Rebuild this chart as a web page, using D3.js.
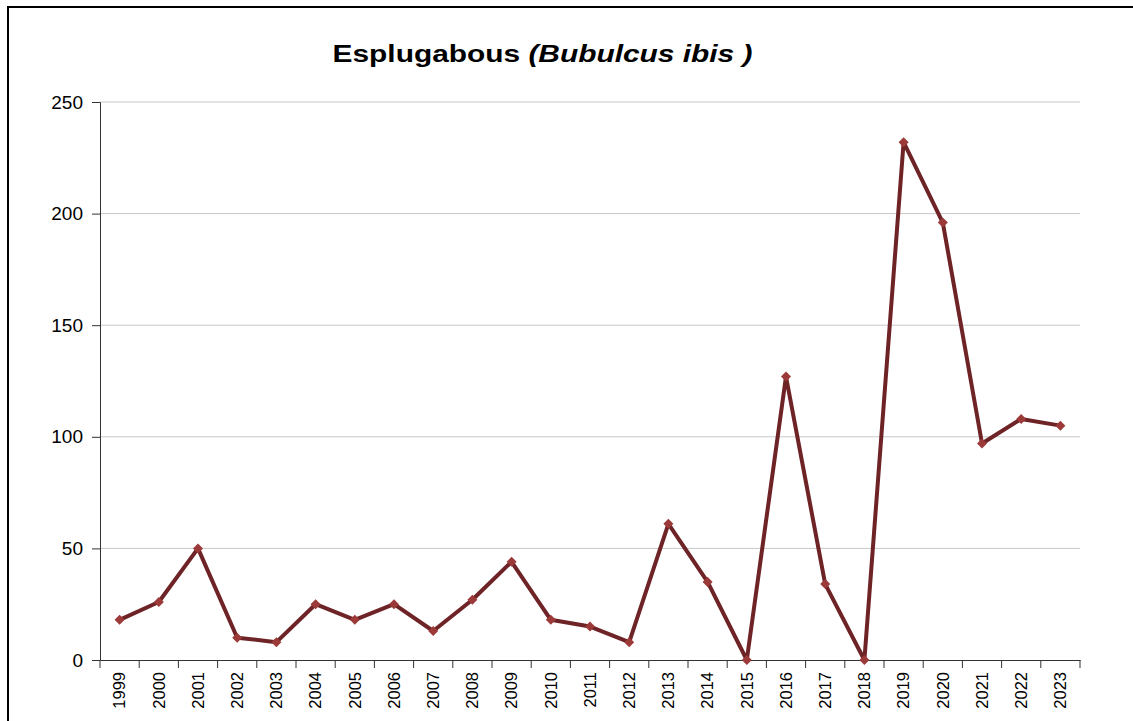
<!DOCTYPE html>
<html><head><meta charset="utf-8">
<script src="https://cdn.jsdelivr.net/npm/d3@7"></script>
<style>body{margin:0;background:#fff;} svg{display:block;font-family:"Liberation Sans",Arial,sans-serif;}</style>
</head><body>
<svg id="c" width="1133" height="721"></svg>
<script>
const years = ["1999","2000","2001","2002","2003","2004","2005","2006","2007","2008","2009","2010","2011","2012","2013","2014","2015","2016","2017","2018","2019","2020","2021","2022","2023"];
const counts = [18,26,50,10,8,25,18,25,13,27,44,18,15,8,61,35,0,127,34,0,232,196,97,108,105];
const yTicks = [0,50,100,150,200,250];
const titleMain = "Esplugabous ";
const titleSpecies = "(Bubulcus ibis )";

const svg = d3.select("#c");
svg.append("rect").attr("x",8).attr("y",7).attr("width",1140).attr("height",730)
  .attr("fill","#fff").attr("stroke","#000").attr("stroke-width",2);

const L=100,R=1080,T=102,B=660;
const x = d3.scaleBand().domain(years).range([L,R]);
const y = d3.scaleLinear().domain([0,250]).range([B,T]);

// gridlines
svg.append("g").selectAll("line").data(yTicks.filter(d=>d>0)).join("line")
  .attr("x1",L).attr("x2",R).attr("y1",d=>y(d)).attr("y2",d=>y(d))
  .attr("stroke","#c8c8c8").attr("stroke-width",1);

// y axis
const ya = svg.append("g").attr("transform",`translate(${L},0)`)
  .call(d3.axisLeft(y).tickValues(yTicks).tickSize(8).tickPadding(9));
ya.select(".domain").attr("stroke","#333");
ya.selectAll(".tick line").attr("stroke","#333");
ya.selectAll("text").attr("font-size",19).attr("fill","#000").attr("font-family","Liberation Sans, Arial, sans-serif");

// x axis
const xa = svg.append("g").attr("transform",`translate(0,${B})`)
  .call(d3.axisBottom(x).tickSize(0).tickPadding(0));
xa.select(".domain").attr("stroke","#333");
xa.selectAll(".tick text").attr("font-size",16.5).attr("fill","#000")
  .attr("font-family","Liberation Sans, Arial, sans-serif")
  .attr("transform","translate(0,12) rotate(-90)")
  .attr("text-anchor","end").attr("dy","0.35em").attr("x",0).attr("y",0);
// boundary ticks
const bounds = years.map(d=>x(d)).concat([R]);
svg.append("g").selectAll("line").data(bounds).join("line")
  .attr("x1",d=>d).attr("x2",d=>d).attr("y1",B).attr("y2",B+8)
  .attr("stroke","#333").attr("stroke-width",1);

// line
const line = d3.line().x((d,i)=>x(years[i])+x.bandwidth()/2).y(d=>y(d));
svg.append("path").datum(counts).attr("d",line).attr("fill","none")
  .attr("stroke","#6e2326").attr("stroke-width",4).attr("stroke-linejoin","round");

// markers
svg.append("g").selectAll("path").data(counts).join("path")
  .attr("d",d3.symbol().type(d3.symbolDiamond2).size(64))
  .attr("transform",(d,i)=>`translate(${x(years[i])+x.bandwidth()/2},${y(d)})`)
  .attr("fill","#9b3a38");

// title
const t = svg.append("text").attr("text-anchor","middle")
  .attr("transform","translate(542.5,62) scale(1.22,1)")
  .attr("font-size",24.5).attr("font-weight","bold").attr("fill","#000");
t.append("tspan").text(titleMain);
t.append("tspan").attr("font-style","italic").text(titleSpecies);
</script>
</body></html>
